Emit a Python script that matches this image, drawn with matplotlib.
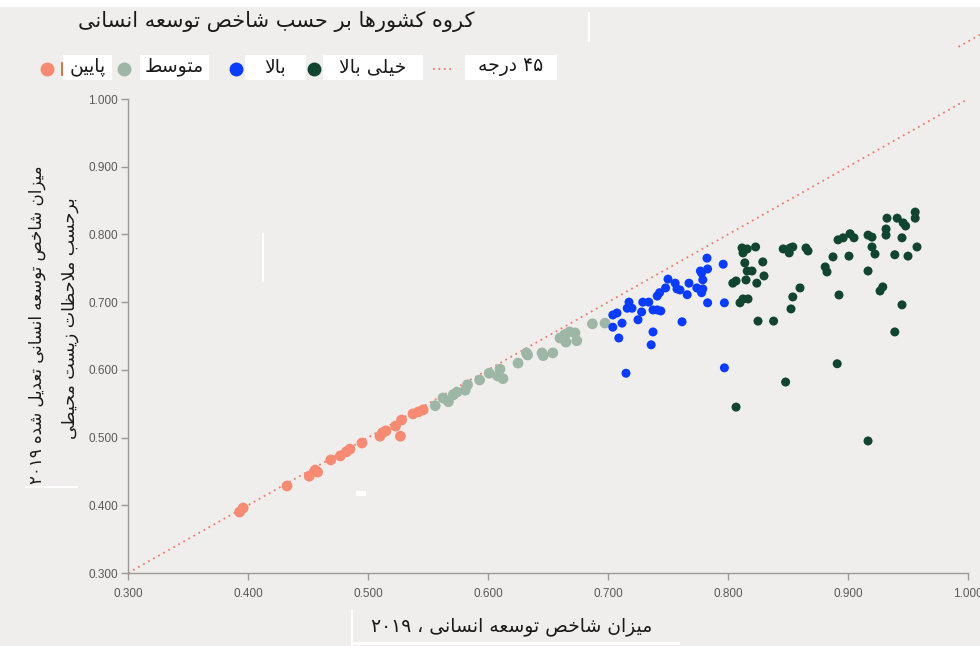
import matplotlib
matplotlib.use('Agg')
import matplotlib.pyplot as plt
from matplotlib.lines import Line2D
from matplotlib.patches import Rectangle

# ---------------- data ----------------
low_x = [0.393, 0.396, 0.4325, 0.451, 0.458, 0.456, 0.469, 0.477, 0.482, 0.485, 0.495,
         0.510, 0.512, 0.515, 0.527, 0.523, 0.528, 0.5375, 0.542, 0.546]
low_y = [0.390, 0.396, 0.4285, 0.443, 0.449, 0.452, 0.467, 0.473, 0.479, 0.483, 0.492,
         0.502, 0.507, 0.510, 0.502, 0.517, 0.526, 0.535, 0.538, 0.541]

mid_x = [0.556, 0.5625, 0.567, 0.571, 0.574, 0.581, 0.583, 0.593, 0.601, 0.610, 0.608,
         0.6125, 0.625, 0.632, 0.633, 0.645, 0.646, 0.654, 0.660, 0.664, 0.668, 0.6725,
         0.665, 0.674, 0.687, 0.6975]
mid_y = [0.547, 0.5585, 0.553, 0.563, 0.567, 0.570, 0.578, 0.585, 0.595, 0.601, 0.591,
         0.587, 0.610, 0.625, 0.622, 0.625, 0.621, 0.625, 0.647, 0.652, 0.656, 0.6545,
         0.641, 0.643, 0.668, 0.669]

high_x = [0.7825, 0.796, 0.777, 0.783, 0.778, 0.750, 0.756, 0.7675, 0.779, 0.748, 0.7575,
          0.760, 0.774, 0.777, 0.779, 0.778, 0.766, 0.743, 0.741, 0.729, 0.734, 0.7175,
          0.718, 0.716, 0.720, 0.728, 0.7375, 0.741, 0.744, 0.783, 0.797, 0.7075, 0.704,
          0.725, 0.7117, 0.7617, 0.704, 0.7375, 0.709, 0.736, 0.715, 0.797]
high_y = [0.765, 0.756, 0.746, 0.749, 0.743, 0.734, 0.728, 0.728, 0.733, 0.721, 0.7195,
          0.718, 0.721, 0.718, 0.7195, 0.714, 0.711, 0.714, 0.709, 0.700, 0.700, 0.700,
          0.693, 0.691, 0.691, 0.6855, 0.6885, 0.6885, 0.687, 0.699, 0.699, 0.684, 0.681,
          0.674, 0.669, 0.671, 0.663, 0.656, 0.647, 0.637, 0.595, 0.603]

vhigh_x = [0.8117, 0.816, 0.8125, 0.823, 0.846, 0.8517, 0.854, 0.851, 0.865, 0.8667,
           0.814, 0.829, 0.816, 0.820, 0.830, 0.804, 0.8067, 0.815, 0.824, 0.860, 0.854,
           0.8125, 0.8167, 0.810, 0.8525, 0.825, 0.838, 0.881, 0.8825, 0.8875, 0.8917,
           0.896, 0.9017, 0.905, 0.9167, 0.920, 0.920, 0.9225, 0.9008, 0.9167, 0.929,
           0.9267, 0.8925, 0.945, 0.9317, 0.9317, 0.9325, 0.941, 0.946, 0.948, 0.956,
           0.956, 0.945, 0.9575, 0.939, 0.950, 0.939, 0.891, 0.848, 0.8067, 0.9167]
vhigh_y = [0.780, 0.7785, 0.7727, 0.7815, 0.7786, 0.780, 0.7815, 0.7727, 0.780, 0.7756,
           0.758, 0.7594, 0.746, 0.746, 0.7387, 0.728, 0.7313, 0.7328, 0.728, 0.721, 0.7077,
           0.7047, 0.7047, 0.699, 0.690, 0.672, 0.672, 0.752, 0.7446, 0.7668, 0.792,
           0.795, 0.801, 0.795, 0.799, 0.796, 0.7815, 0.771, 0.768, 0.746, 0.7225,
           0.7165, 0.7106, 0.696, 0.808, 0.799, 0.824, 0.824, 0.817, 0.8125, 0.833,
           0.824, 0.795, 0.7815, 0.770, 0.768, 0.656, 0.609, 0.582, 0.545, 0.495]

diag = [0.3, 1.0]
xticks = [0.3, 0.4, 0.5, 0.6, 0.7, 0.8, 0.9, 1.0]
yticks = [0.3, 0.4, 0.5, 0.6, 0.7, 0.8, 0.9, 1.0]

title_text = "کروه کشورها بر حسب شاخص توسعه انسانی"
legend_labels = ["پایین", "متوسط", "بالا", "خیلی بالا", "۴۵ درجه"]
xlabel_text = "میزان شاخص توسعه انسانی ، ۲۰۱۹"
ylabel_line1 = "میزان شاخص توسعه انسانی تعدیل شده ۲۰۱۹"
ylabel_line2 = "برحسب ملاحظات زیست محیطی"

# ---------------- simple Persian shaping ----------------
F = {
    '\u0627': ('\uFE8D', '\uFE8E', None, None),
    '\u0622': ('\uFE81', '\uFE82', None, None),
    '\u0628': ('\uFE8F', '\uFE90', '\uFE91', '\uFE92'),
    '\u067E': ('\uFB56', '\uFB57', '\uFB58', '\uFB59'),
    '\u062A': ('\uFE95', '\uFE96', '\uFE97', '\uFE98'),
    '\u062B': ('\uFE99', '\uFE9A', '\uFE9B', '\uFE9C'),
    '\u062C': ('\uFE9D', '\uFE9E', '\uFE9F', '\uFEA0'),
    '\u0686': ('\uFB7A', '\uFB7B', '\uFB7C', '\uFB7D'),
    '\u062D': ('\uFEA1', '\uFEA2', '\uFEA3', '\uFEA4'),
    '\u062E': ('\uFEA5', '\uFEA6', '\uFEA7', '\uFEA8'),
    '\u062F': ('\uFEA9', '\uFEAA', None, None),
    '\u0630': ('\uFEAB', '\uFEAC', None, None),
    '\u0631': ('\uFEAD', '\uFEAE', None, None),
    '\u0632': ('\uFEAF', '\uFEB0', None, None),
    '\u0698': ('\uFB8A', '\uFB8B', None, None),
    '\u0633': ('\uFEB1', '\uFEB2', '\uFEB3', '\uFEB4'),
    '\u0634': ('\uFEB5', '\uFEB6', '\uFEB7', '\uFEB8'),
    '\u0635': ('\uFEB9', '\uFEBA', '\uFEBB', '\uFEBC'),
    '\u0636': ('\uFEBD', '\uFEBE', '\uFEBF', '\uFEC0'),
    '\u0637': ('\uFEC1', '\uFEC2', '\uFEC3', '\uFEC4'),
    '\u0638': ('\uFEC5', '\uFEC6', '\uFEC7', '\uFEC8'),
    '\u0639': ('\uFEC9', '\uFECA', '\uFECB', '\uFECC'),
    '\u063A': ('\uFECD', '\uFECE', '\uFECF', '\uFED0'),
    '\u0641': ('\uFED1', '\uFED2', '\uFED3', '\uFED4'),
    '\u0642': ('\uFED5', '\uFED6', '\uFED7', '\uFED8'),
    '\u06A9': ('\uFB8E', '\uFB8F', '\uFB90', '\uFB91'),
    '\u06AF': ('\uFB92', '\uFB93', '\uFB94', '\uFB95'),
    '\u0644': ('\uFEDD', '\uFEDE', '\uFEDF', '\uFEE0'),
    '\u0645': ('\uFEE1', '\uFEE2', '\uFEE3', '\uFEE4'),
    '\u0646': ('\uFEE5', '\uFEE6', '\uFEE7', '\uFEE8'),
    '\u0648': ('\uFEED', '\uFEEE', None, None),
    '\u0647': ('\uFEE9', '\uFEEA', '\uFEEB', '\uFEEC'),
    '\u06CC': ('\uFBFC', '\uFBFD', '\uFBFE', '\uFBFF'),
    '\uFEFB': ('\uFEFB', '\uFEFC', None, None),
}


def shape(s):
    s = s.replace('\u0644\u0627', '\uFEFB')
    out = []
    n = len(s)
    for i, c in enumerate(s):
        if c not in F:
            out.append(c)
            continue
        prev_j = i > 0 and s[i - 1] in F and F[s[i - 1]][2] is not None
        next_j = F[c][2] is not None and i + 1 < n and s[i + 1] in F
        if prev_j and next_j:
            out.append(F[c][3])
        elif prev_j:
            out.append(F[c][1])
        elif next_j:
            out.append(F[c][2])
        else:
            out.append(F[c][0])
    # visual order: reverse, keeping digit runs LTR
    runs = []
    for ch in out:
        isd = ch.isdigit()
        if runs and isd and runs[-1][0]:
            runs[-1][1].append(ch)
        else:
            runs.append((isd, [ch]))
    return ''.join(''.join(r[1]) for r in reversed(runs))


# ---------------- figure ----------------
W, H = 980, 646
BG = '#efeeec'
fig = plt.figure(figsize=(W / 100, H / 100), dpi=100, facecolor=BG)


def fx(px):
    return px / W


def fy(py):
    return 1 - py / H


ax = fig.add_axes([fx(128), fy(573), fx(968) - fx(128), fy(99) - fy(573)])
ax.set_facecolor(BG)

ax.plot(diag, diag, linestyle=(0, (1, 2.2)), color='#f07a6a', lw=1.3, zorder=1)
ax.plot([0.992, 1.012], [0.992 + 0.085, 1.012 + 0.085], linestyle=(0, (1, 2.2)),
        color='#f07a6a', lw=1.3, clip_on=False, zorder=1)

ax.scatter(low_x, low_y, s=60, color='#f68a72', edgecolors='none', zorder=3)
ax.scatter(mid_x, mid_y, s=60, color='#9db6a6', edgecolors='none', zorder=3)
ax.scatter(high_x, high_y, s=42, color='#0a3cff', edgecolors='none', zorder=3)
ax.scatter(vhigh_x, vhigh_y, s=42, color='#114530', edgecolors='none', zorder=3)

ax.set_xlim(0.3, 1.0)
ax.set_ylim(0.3, 1.0)
ax.set_xticks(xticks)
ax.set_yticks(yticks)
ax.set_xticklabels([f"{v:.3f}" for v in xticks])
ax.set_yticklabels([f"{v:.3f}" for v in yticks])
for sp in ['top', 'right']:
    ax.spines[sp].set_visible(False)
for sp in ['left', 'bottom']:
    ax.spines[sp].set_color('#9a9a9a')
    ax.spines[sp].set_linewidth(1.0)
ax.tick_params(axis='both', colors='#9a9a9a', length=5, width=1.0,
               labelcolor='#5a5a5a', labelsize=8.5)
ax.tick_params(axis='x', pad=6)
ax.tick_params(axis='y', pad=2)
for lab in ax.get_xticklabels() + ax.get_yticklabels():
    lab.set_family('Liberation Sans')

# ---------------- decorations (white artifacts) ----------------
def wrect(x0, y0, x1, y1):
    fig.add_artist(Rectangle((fx(x0), fy(y1)), fx(x1) - fx(x0), fy(y0) - fy(y1),
                             transform=fig.transFigure, facecolor='white',
                             edgecolor='none', zorder=0.5))

wrect(0, 0, 980, 7)
wrect(588, 12, 590, 42)
wrect(262, 233, 264, 282)
wrect(356, 491, 366, 496)
wrect(25, 486, 78, 488)
wrect(352, 642, 680, 645)
wrect(351, 609, 353, 646)

# ---------------- title ----------------
fig.text(fx(276), fy(21), shape(title_text), ha='center', va='center',
         fontsize=15, family='DejaVu Sans', color='#1a1a1a')

# ---------------- legend ----------------
ly = 68
boxes = [(63, 112), (140, 209), (245, 306), (323, 423), (465, 557)]
markers = [(47, '#f68a72'), (124, '#9db6a6'), (236, '#0a3cff'), (314, '#114530')]
for (x0, x1), lab in zip(boxes, legend_labels):
    wrect(x0, 55, x1, 80)
    fig.text(fx((x0 + x1) / 2), fy(ly - 1), shape(lab), ha='center', va='center',
             fontsize=13.5, family='DejaVu Sans', color='#1a1a1a', zorder=2)
for mx, mc in markers:
    fig.add_artist(Line2D([fx(mx)], [fy(ly + 1)], marker='o', markersize=9,
                          color=mc, linestyle='none', transform=fig.transFigure))
fig.add_artist(Line2D([fx(62), fx(62)], [fy(63), fy(75)], color='#c8602a', lw=1.2,
                      transform=fig.transFigure))
fig.add_artist(Line2D([fx(433), fx(453)], [fy(ly + 1), fy(ly + 1)], color='#f07a6a',
                      lw=1.3, linestyle=(0, (1, 2)), transform=fig.transFigure))

# ---------------- axis labels ----------------
fig.text(fx(512), fy(627), shape(xlabel_text), ha='center', va='center',
         fontsize=13.5, family='DejaVu Sans', color='#1a1a1a')
fig.text(fx(37), fy(325), shape(ylabel_line1), ha='center', va='center',
         rotation=90, fontsize=12, family='DejaVu Sans', color='#1a1a1a')
fig.text(fx(70), fy(318), shape(ylabel_line2), ha='center', va='center',
         rotation=90, fontsize=12.5, family='DejaVu Sans', color='#1a1a1a')

fig.savefig('out.png', dpi=100, facecolor=BG)
